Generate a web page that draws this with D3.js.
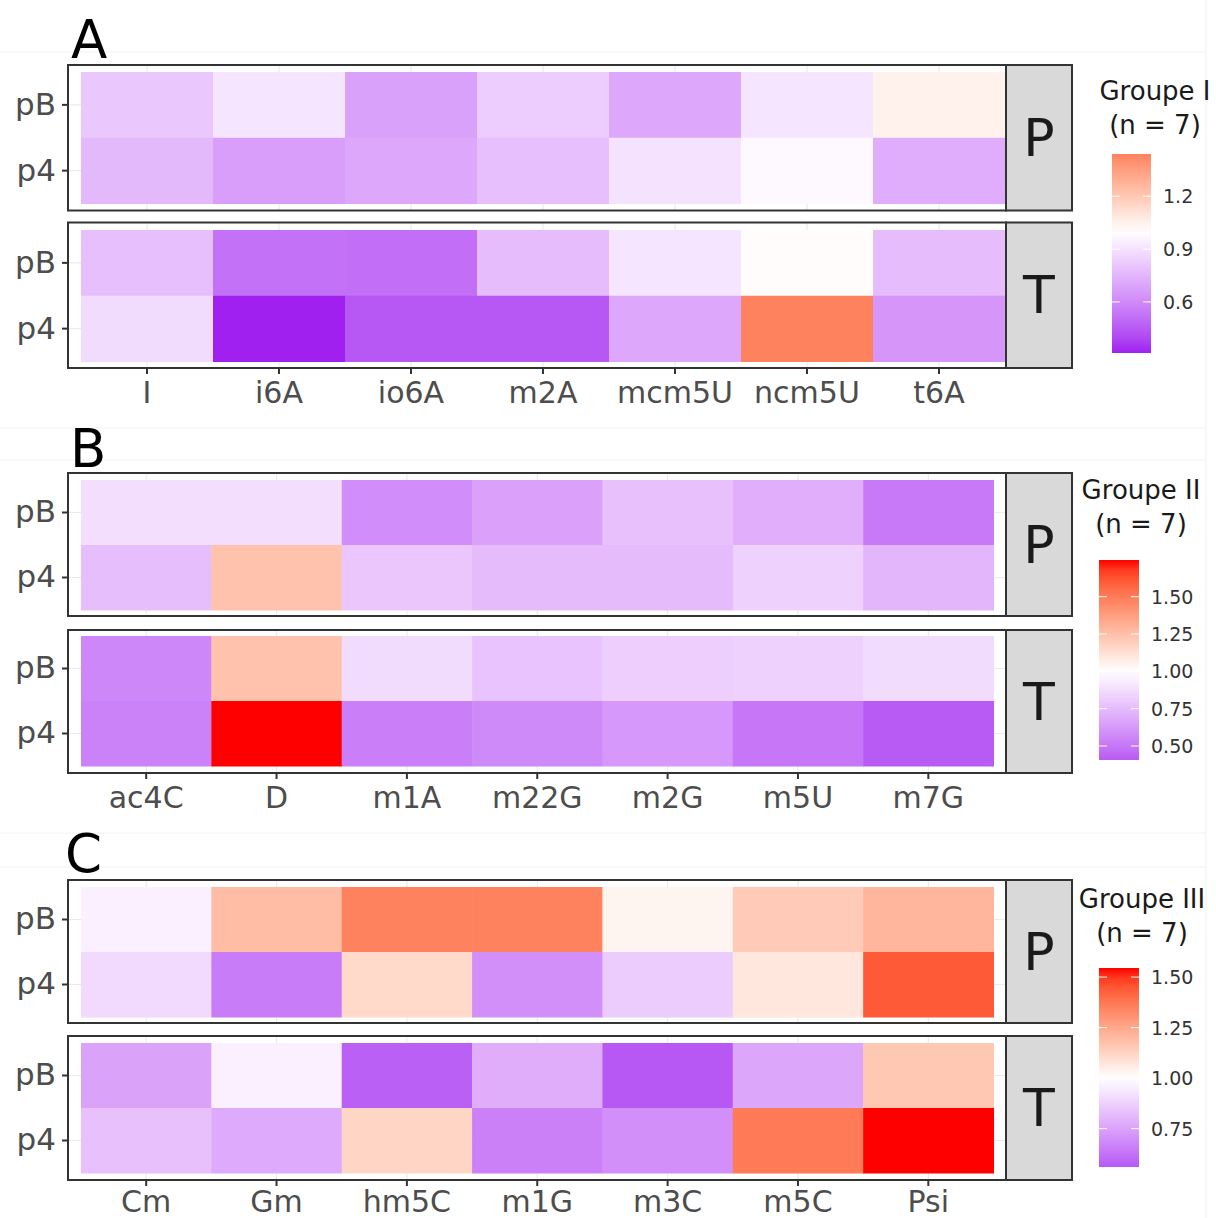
<!DOCTYPE html>
<html>
<head>
<meta charset="utf-8">
<script src="https://cdn.jsdelivr.net/npm/d3@7"></script>
<style>
  body { margin: 0; background: #fff; }
  svg { display: block; font-family: "DejaVu Sans", sans-serif; }
</style>
</head>
<body>
<div id="chart"></div>
<script>
// rows and facet labels
const rows = ["pB", "p4"]
const facets = ["P", "T"]

// Groupe I
const modsI = ["I", "i6A", "io6A", "m2A", "mcm5U", "ncm5U", "t6A"]
const groupI_P_pB = [0.81, 0.91, 0.68, 0.83, 0.70, 0.91, 1.05]
const groupI_P_p4 = [0.76, 0.67, 0.70, 0.78, 0.90, 0.98, 0.72]
const groupI_T_pB = [0.78, 0.52, 0.51, 0.77, 0.91, 1.01, 0.77]
const groupI_T_p4 = [0.88, 0.31, 0.44, 0.44, 0.70, 1.44, 0.64]
const ticksI = [0.6, 0.9, 1.2]

// Groupe II
const modsII = ["ac4C", "D", "m1A", "m22G", "m2G", "m5U", "m7G"]
const groupII_P_pB = [0.88, 0.88, 0.58, 0.65, 0.77, 0.70, 0.51]
const groupII_P_p4 = [0.76, 1.24, 0.79, 0.75, 0.75, 0.83, 0.73]
const groupII_T_pB = [0.56, 1.24, 0.87, 0.78, 0.82, 0.83, 0.87]
const groupII_T_p4 = [0.54, 1.746, 0.53, 0.57, 0.62, 0.50, 0.406]
const ticksII = [0.5, 0.75, 1.0, 1.25, 1.5]

// Groupe III
const modsIII = ["Cm", "Gm", "hm5C", "m1G", "m3C", "m5C", "Psi"]
const groupIII_P_pB = [0.96, 1.19, 1.35, 1.35, 1.03, 1.15, 1.21]
const groupIII_P_p4 = [0.90, 0.65, 1.11, 0.70, 0.86, 1.07, 1.44]
const groupIII_T_pB = [0.75, 0.96, 0.58, 0.78, 0.56, 0.76, 1.16]
const groupIII_T_p4 = [0.83, 0.77, 1.12, 0.66, 0.70, 1.365, 1.545]
const ticksIII = [0.75, 1.0, 1.25, 1.5]

const W = 1216, H = 1218
const svg = d3.select("#chart").append("svg").attr("width", W).attr("height", H)

// faint outlines of the composed sub plots
const faintY = [52, 428, 460, 833, 867]
faintY.forEach(y => svg.append("line").attr("x1", 0).attr("x2", 1206).attr("y1", y).attr("y2", y)
  .attr("stroke", "#f2f2f2").attr("stroke-width", 1))
svg.append("line").attr("x1", 1206).attr("x2", 1206).attr("y1", 0).attr("y2", H)
  .attr("stroke", "#f2f2f2").attr("stroke-width", 1)

/**
 * Draw one group: tag letter, two facet panels with strips, and colour bar legend
 */
function drawGroup(cfg) {
  const all = cfg.values.flat().flat()
  const ext = d3.extent(all)
  const dist = Math.max(1 - ext[0], ext[1] - 1)
  // ggplot scale_fill_gradient2 like: purple - white - red, midpoint 1
  const color = d3.scaleLinear()
    .domain([1 - dist, 1, 1 + dist])
    .range(["#A020F0", "#FFFFFF", "#FF0000"])
    .interpolate(d3.interpolateLab)

  const x = d3.scaleBand().domain(cfg.mods).range(cfg.tileX).padding(0)

  // tag letter
  svg.append("text").attr("x", cfg.tag[1]).attr("y", cfg.tag[2])
    .attr("font-size", 53).attr("fill", "#000").text(cfg.tag[0])

  cfg.panels.forEach((p, pi) => {
    const y = d3.scaleBand().domain(rows).range(p.tiles).padding(0)
    const g = svg.append("g")

    // panel background
    g.append("rect").attr("x", 68).attr("y", p.box[0]).attr("width", 1006 - 68)
      .attr("height", p.box[1] - p.box[0]).attr("fill", "#fff")

    // grid lines
    cfg.mods.forEach(m => g.append("line")
      .attr("x1", x(m) + x.bandwidth() / 2).attr("x2", x(m) + x.bandwidth() / 2)
      .attr("y1", p.box[0]).attr("y2", p.box[1]).attr("stroke", "#ebebeb").attr("stroke-width", 1.2))
    rows.forEach(r => g.append("line")
      .attr("x1", 68).attr("x2", 1006)
      .attr("y1", y(r) + y.bandwidth() / 2).attr("y2", y(r) + y.bandwidth() / 2)
      .attr("stroke", "#ebebeb").attr("stroke-width", 1.2))

    // tiles
    const cells = []
    rows.forEach((r, ri) => cfg.mods.forEach((m, mi) => cells.push({ r, m, v: cfg.values[pi][ri][mi] })))
    g.selectAll("rect.tile").data(cells).enter().append("rect")
      .attr("class", "tile")
      .attr("x", d => x(d.m)).attr("y", d => y(d.r))
      .attr("width", x.bandwidth() + 0.5).attr("height", y.bandwidth() + 0.5)
      .attr("fill", d => color(d.v))

    // panel border
    g.append("rect").attr("x", 68).attr("y", p.box[0]).attr("width", 1006 - 68)
      .attr("height", p.box[1] - p.box[0]).attr("fill", "none")
      .attr("stroke", "#333").attr("stroke-width", 2)

    // y axis
    const yAxis = d3.axisLeft(y).tickSize(6).tickPadding(6)
    const ya = g.append("g").attr("transform", "translate(68,0)").call(yAxis)
    ya.select(".domain").remove()
    ya.selectAll(".tick line").attr("stroke", "#333").attr("stroke-width", 2)
    ya.selectAll(".tick text").attr("font-size", 31).attr("fill", "#4d4d4d")
      .attr("font-family", "DejaVu Sans")

    // strip
    g.append("rect").attr("x", 1006).attr("y", p.box[0]).attr("width", 66)
      .attr("height", p.box[1] - p.box[0]).attr("fill", "#d9d9d9")
      .attr("stroke", "#333").attr("stroke-width", 2)
    g.append("text").attr("x", 1039).attr("y", (p.box[0] + p.box[1]) / 2)
      .attr("text-anchor", "middle").attr("dominant-baseline", "central")
      .attr("font-size", 52).attr("fill", "#1a1a1a").text(facets[pi])

    // x axis under the last panel
    if (pi == 1) {
      const xAxis = d3.axisBottom(x).tickSize(6).tickPadding(cfg.xPad)
      const xa = g.append("g").attr("transform", `translate(0,${p.box[1]})`).call(xAxis)
      xa.select(".domain").remove()
      xa.selectAll(".tick line").attr("stroke", "#333").attr("stroke-width", 2)
      xa.selectAll(".tick text").attr("font-size", 30).attr("fill", "#4d4d4d")
        .attr("font-family", "DejaVu Sans")
    }
  })

  // legend
  const lg = cfg.legend
  svg.append("text").attr("x", lg.titleX).attr("y", lg.titleY)
    .attr("text-anchor", "middle").attr("font-size", 26).attr("fill", "#1a1a1a").text(cfg.title)
  svg.append("text").attr("x", lg.titleX).attr("y", lg.titleY + 34)
    .attr("text-anchor", "middle").attr("font-size", 26).attr("fill", "#1a1a1a").text("(n = 7)")

  const ly = d3.scaleLinear().domain(ext).range([lg.bar[3], lg.bar[2]])
  const gid = "grad" + cfg.tag[0]
  const grad = svg.append("defs").append("linearGradient").attr("id", gid)
    .attr("x1", 0).attr("x2", 0).attr("y1", 1).attr("y2", 0)
  d3.range(0, 21).forEach(i => {
    const v = ext[0] + (ext[1] - ext[0]) * i / 20
    grad.append("stop").attr("offset", (i / 20 * 100) + "%").attr("stop-color", color(v))
  })
  const bw = lg.bar[1] - lg.bar[0]
  svg.append("rect").attr("x", lg.bar[0]).attr("y", lg.bar[2]).attr("width", bw)
    .attr("height", lg.bar[3] - lg.bar[2]).attr("fill", `url(#${gid})`)
  cfg.ticks.forEach(t => {
    svg.append("line").attr("x1", lg.bar[0]).attr("x2", lg.bar[0] + bw / 5)
      .attr("y1", ly(t)).attr("y2", ly(t)).attr("stroke", "#fff").attr("stroke-width", 1)
    svg.append("line").attr("x1", lg.bar[1] - bw / 5).attr("x2", lg.bar[1])
      .attr("y1", ly(t)).attr("y2", ly(t)).attr("stroke", "#fff").attr("stroke-width", 1)
    svg.append("text").attr("x", lg.bar[1] + 12).attr("y", ly(t))
      .attr("dominant-baseline", "central").attr("font-size", 19).attr("fill", "#333")
      .text(d3.format(cfg.fmt)(t))
  })
}

drawGroup({
  tag: ["A", 71, 58], title: "Groupe I", mods: modsI, tileX: [81, 1005], xPad: 8,
  values: [[groupI_P_pB, groupI_P_p4], [groupI_T_pB, groupI_T_p4]],
  panels: [{ box: [65, 210.5], tiles: [72, 203.5] }, { box: [222.5, 368], tiles: [230, 361.5] }],
  legend: { titleX: 1155, titleY: 100, bar: [1112, 1151, 154, 353] },
  ticks: ticksI, fmt: ".1f"
})

drawGroup({
  tag: ["B", 70, 467], title: "Groupe II", mods: modsII, tileX: [81, 993.5], xPad: 8,
  values: [[groupII_P_pB, groupII_P_p4], [groupII_T_pB, groupII_T_p4]],
  panels: [{ box: [473, 616], tiles: [480, 610] }, { box: [630, 773], tiles: [636, 766] }],
  legend: { titleX: 1141, titleY: 499, bar: [1099, 1139, 560, 760] },
  ticks: ticksII, fmt: ".2f"
})

drawGroup({
  tag: ["C", 65, 872], title: "Groupe III", mods: modsIII, tileX: [81, 993.5], xPad: 5,
  values: [[groupIII_P_pB, groupIII_P_p4], [groupIII_T_pB, groupIII_T_p4]],
  panels: [{ box: [880, 1023], tiles: [887, 1017] }, { box: [1036, 1180], tiles: [1043, 1173] }],
  legend: { titleX: 1142, titleY: 908, bar: [1099, 1139, 968, 1167] },
  ticks: ticksIII, fmt: ".2f"
})
</script>
</body>
</html>
